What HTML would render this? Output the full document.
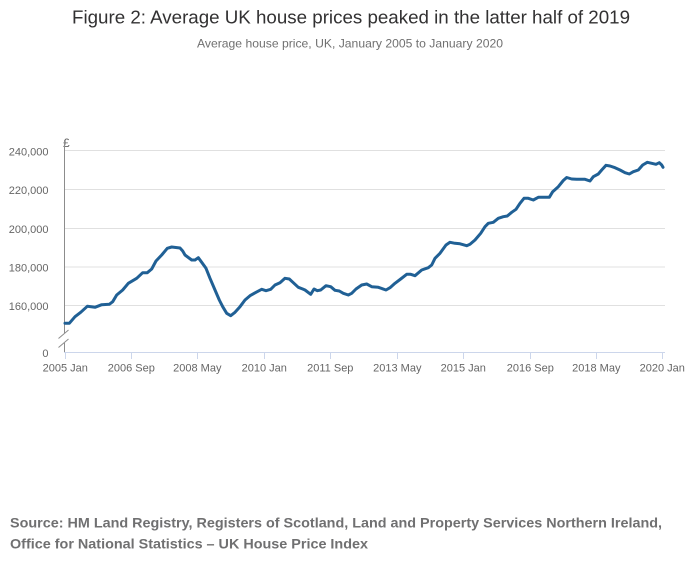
<!DOCTYPE html>
<html><head><meta charset="utf-8"><style>
html,body{margin:0;padding:0;background:#fff;}
svg{display:block;}
text{font-family:"Liberation Sans",sans-serif;}
</style></head><body>
<svg width="700" height="574" viewBox="0 0 700 574" xmlns="http://www.w3.org/2000/svg">
<rect width="700" height="574" fill="#fff"/>
<text x="351" y="23.5" font-size="18" fill="#323132" text-anchor="middle" textLength="558" lengthAdjust="spacingAndGlyphs">Figure 2: Average UK house prices peaked in the latter half of 2019</text>
<text x="350" y="47.5" font-size="12" fill="#707070" text-anchor="middle" textLength="306" lengthAdjust="spacingAndGlyphs">Average house price, UK, January 2005 to January 2020</text>

<g stroke="#e0e0e0" stroke-width="1">
<line x1="64" y1="150.5" x2="665" y2="150.5"/>
<line x1="64" y1="189.5" x2="665" y2="189.5"/>
<line x1="64" y1="228.5" x2="665" y2="228.5"/>
<line x1="64" y1="267" x2="665" y2="267"/>
<line x1="64" y1="305.5" x2="665" y2="305.5"/>
</g>

<g font-size="11" fill="#666" text-anchor="end">
<text x="48.5" y="155.5">240,000</text>
<text x="48.5" y="194">220,000</text>
<text x="48.5" y="233">200,000</text>
<text x="48.5" y="271.5">180,000</text>
<text x="48.5" y="310">160,000</text>
<text x="48.5" y="357">0</text>
</g>
<text x="63" y="147" font-size="12" fill="#666">£</text>

<g stroke="#8c8c8c" stroke-width="1" fill="none">
<line x1="64.5" y1="140" x2="64.5" y2="333"/>
<line x1="64.5" y1="343" x2="64.5" y2="352"/>
<line x1="58.5" y1="338.5" x2="68.5" y2="330"/>
<line x1="58.5" y1="347.5" x2="68.5" y2="339"/>
</g>

<line x1="64" y1="352.5" x2="665" y2="352.5" stroke="#ccd6eb" stroke-width="1"/>
<g stroke="#ccd6eb" stroke-width="1">
<line x1="65.5" y1="352" x2="65.5" y2="359"/>
<line x1="131.5" y1="352" x2="131.5" y2="359"/>
<line x1="197.5" y1="352" x2="197.5" y2="359"/>
<line x1="264.5" y1="352" x2="264.5" y2="359"/>
<line x1="330.5" y1="352" x2="330.5" y2="359"/>
<line x1="397.5" y1="352" x2="397.5" y2="359"/>
<line x1="463.5" y1="352" x2="463.5" y2="359"/>
<line x1="530.5" y1="352" x2="530.5" y2="359"/>
<line x1="596.5" y1="352" x2="596.5" y2="359"/>
<line x1="662.5" y1="352" x2="662.5" y2="359"/>
</g>
<g font-size="11" fill="#666" text-anchor="middle">
<text x="65.3" y="371.5">2005 Jan</text>
<text x="131.3" y="371.5">2006 Sep</text>
<text x="197.3" y="371.5">2008 May</text>
<text x="264.3" y="371.5">2010 Jan</text>
<text x="330.3" y="371.5">2011 Sep</text>
<text x="397.3" y="371.5">2013 May</text>
<text x="463.3" y="371.5">2015 Jan</text>
<text x="530.3" y="371.5">2016 Sep</text>
<text x="596.3" y="371.5">2018 May</text>
<text x="662.3" y="371.5">2020 Jan</text>
</g>

<polyline fill="none" stroke="#206095" stroke-width="3" stroke-linejoin="round" stroke-linecap="round" points="65,323.3 69.3,323.3 75,316.7 80.7,312.3 87.3,306.3 95,307.3 101.7,304.7 109.3,304.3 112.7,301.7 116.7,295 122.7,290 128.3,283.3 136.7,278.3 142.7,272.7 147.3,272.7 151.7,269 156,261 161.7,255 167.3,248.3 171.7,247 180,248 182.7,251 185,255 191.7,260 195,260 198.3,257.7 201.7,262.3 206,268.3 210,278.3 215,290 219.3,300 222.7,306.7 226.7,313.3 230.7,315.7 235,312.3 240,306.7 245,300 250,295.7 256,292.3 261.7,289.3 266,290.7 270.7,289.3 275,285 280,282.7 285,278.3 289.3,279 293.3,282.7 298.3,287.3 302.7,289 305,290 310.7,294.3 314,289 317.3,290.7 320.7,290 326,285.7 330.7,286.7 335,290.3 339.3,291 343.3,293.3 348.3,295 351.7,293.3 356,289 361.7,285 366.7,284 371.7,286.7 378.3,287.3 386,290 390,287.7 395,283.3 400.7,279 406.7,274.3 410.7,274.3 415,275.7 421.7,270 428.3,267.7 431.7,265 435,258.3 440,253.3 446,245 450,242.3 455,243.3 460,243.8 466.7,245.7 470,244.3 475,240 480.7,233.3 485,226.7 488.3,223.3 493.3,222.3 498.3,218.3 503.3,216.7 507.3,216 511.7,212.3 516,209.3 520,203.3 524,198.3 528.3,198.3 533.3,200 538.3,197.3 543.3,197.3 549.3,197.3 552.7,191.7 558.3,186.7 563.3,180.5 566.7,177.5 571.7,179 576.7,179.3 580.7,179.3 585,179.3 590,181 593.3,176.7 598.3,174 601.7,170 606,165.3 610,166 615,167.7 620,170 625,172.7 629.3,174 633.3,171.7 638.3,170 642.7,165 647.3,162.3 651.7,163.3 656,164.3 659.3,162.7 661.7,165 663,167.3"/>

<g font-size="14" font-weight="bold" fill="#707071">
<text x="10" y="527.3" textLength="652" lengthAdjust="spacingAndGlyphs">Source: HM Land Registry, Registers of Scotland, Land and Property Services Northern Ireland,</text>
<text x="10" y="548.3" textLength="358" lengthAdjust="spacingAndGlyphs">Office for National Statistics – UK House Price Index</text>
</g>
</svg>
</body></html>
